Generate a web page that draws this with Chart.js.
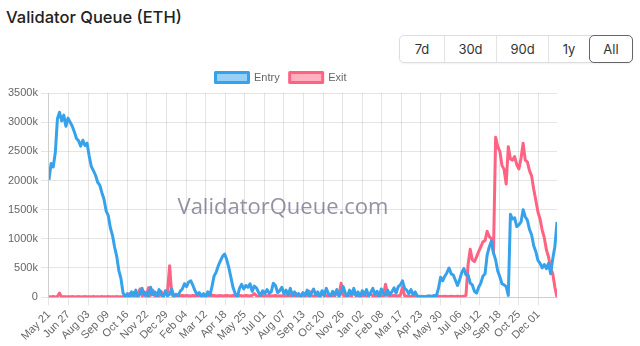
<!DOCTYPE html>
<html>
<head>
<meta charset="utf-8">
<script src="https://cdn.jsdelivr.net/npm/chart.js@4"></script>
<style>
  body { margin: 0; background: #fff; font-family: Inter, "Liberation Sans", sans-serif; }
  .title { position: absolute; left: 6px; top: 7px; font-size: 16.5px; font-weight: 500; color: #222; }
  .range { position: absolute; left: 399px; top: 35px; height: 26px; display: flex; border: 1px solid #ddd; border-radius: 5px; box-shadow: 0 1px 2px rgba(0,0,0,0.06); }
  .range button { border: 0; border-left: 1px solid #e4e4e4; background: #fff; font-family: Inter, sans-serif; font-size: 13px; color: #333; padding: 0; }
  .range button:first-child { border-left: 0; border-radius: 5px 0 0 5px; }
  .range button.on { border: 1px solid #666; border-radius: 5px; margin: -1px -1px -1px 0; }
  .wrap { position: absolute; left: 5px; top: 62px; width: 556px; height: 284px; }
  .mark { position: absolute; left: 0; width: 566px; top: 190px; text-align: center; font-family: "Open Sans", sans-serif; font-size: 22px; color: rgba(100,100,125,0.7); pointer-events: none; }
</style>
</head>
<body>
<div class="title">Validator Queue (ETH)</div>
<div class="range">
  <button style="width:44px">7d</button>
  <button style="width:52px">30d</button>
  <button style="width:52px">90d</button>
  <button style="width:41px">1y</button>
  <button class="on" style="width:44px">All</button>
</div>
<div class="wrap"><canvas id="chart"></canvas></div>
<div class="mark">ValidatorQueue.com</div>
<script>
// x ticks: every 37 days from 2023-05-21
const tickLabels = ['May 21', 'Jun 27', 'Aug 03', 'Sep 09', 'Oct 16', 'Nov 22', 'Dec 29', 'Feb 04', 'Mar 12',
  'Apr 18', 'May 25', 'Jul 01', 'Aug 07', 'Sep 13', 'Oct 20', 'Nov 26', 'Jan 02', 'Feb 08', 'Mar 17',
  'Apr 23', 'May 30', 'Jul 06', 'Aug 12', 'Sep 18', 'Oct 25', 'Dec 01'];
const tickDays = [0, 37, 74, 111, 148, 185, 222, 259, 296, 333, 370, 407, 444, 481, 518, 555, 592, 629, 666,
  703, 740, 777, 814, 851, 888, 925];

// queue size in k ETH, one sample every 4 days
const step = 4;
const entryK = [
  2010, 2290, 2230, 2480, 3060, 3170, 3020, 3120, 2930, 3070,
  3000, 2930, 2830, 2720, 2680, 2590, 2690, 2600, 2640, 2420,
  2240, 2170, 2090, 1970, 1920, 1790, 1680, 1480, 1400, 1190,
  1060, 860, 700, 460, 320, 70, 10, 60, 0, 90,
  20, 120, 10, 60, 150, 30, 80, 0, 170, 40,
  90, 10, 130, 50, 0, 110, 20, 60, 140, 10,
  50, 30, 100, 140, 230, 180, 260, 280, 200, 110,
  40, 80, 20, 60, 10, 90, 30, 180, 360, 430,
  540, 620, 700, 740, 640, 500, 330, 160, 60, 0,
  150, 220, 140, 200, 170, 230, 100, 190, 160, 80,
  30, 110, 60, 130, 70, 90, 240, 200, 80, 110,
  170, 60, 120, 40, 150, 30, 90, 20, 60, 10,
  80, 30, 120, 10, 70, 140, 40, 90, 0, 110,
  30, 150, 60, 20, 100, 40, 130, 10, 80, 180,
  70, 20, 120, 50, 150, 30, 90, 0, 110, 40,
  130, 20, 80, 150, 50, 100, 10, 140, 60, 30,
  120, 40, 90, 160, 70, 180, 210, 280, 150, 120,
  60, 130, 40, 90, 20, 10, 0, 10, 0, 20,
  20, 10, 30, 20, 150, 340, 280, 360, 420, 500,
  400, 380, 290, 200, 300, 420, 490, 380, 380, 240,
  210, 100, 70, 170, 240, 360, 400, 720, 860, 960,
  760, 640, 450, 350, 230, 210, 180, 30, 1420, 1340,
  1360, 1210, 1240, 1290, 1500, 1380, 1320, 1160, 1070, 880,
  780, 630, 580, 500, 560, 490, 580, 400, 660, 870,
  1290
];
const exitK = [
  5, 5, 10, 5, 10, 70, 0, 10, 5, 5,
  5, 10, 5, 5, 10, 5, 5, 10, 5, 5,
  5, 10, 5, 5, 5, 10, 5, 5, 10, 5,
  5, 5, 10, 5, 5, 10, 30, 10, 60, 20,
  80, 10, 50, 140, 20, 90, 10, 160, 30, 120,
  20, 70, 10, 100, 30, 60, 90, 540, 40, 20,
  30, 20, 25, 30, 20, 30, 25, 20, 30, 25,
  25, 30, 20, 25, 30, 20, 80, 25, 30, 20,
  25, 30, 20, 25, 30, 25, 20, 30, 25, 20,
  30, 25, 20, 30, 25, 20, 30, 60, 25, 20,
  25, 30, 20, 25, 30, 20, 25, 30, 20, 25,
  20, 30, 25, 20, 30, 25, 20, 60, 25, 20,
  25, 20, 30, 100, 25, 20, 30, 25, 20, 60,
  25, 30, 20, 25, 30, 20, 80, 25, 240, 30,
  20, 25, 30, 20, 90, 25, 30, 20, 25, 30,
  20, 25, 60, 20, 30, 25, 20, 30, 25, 220,
  30, 20, 25, 30, 20, 25, 30, 170, 25, 20,
  15, 10, 10, 15, 10, 10, 15, 10, 10, 15,
  10, 15, 10, 10, 15, 10, 10, 15, 10, 10,
  15, 10, 10, 15, 10, 10, 15, 30, 560, 820,
  640, 610, 690, 780, 860, 950, 970, 1130, 1040, 1000,
  760, 2740, 2580, 2500, 2260, 2190, 1940, 2580, 2370, 2350,
  2410, 2270, 2200, 2380, 2640, 2350, 2320, 2170, 2080, 1850,
  1660, 1460, 1340, 1150, 1020, 810, 690, 500, 400, 170,
  0
];

const toPoints = arr => arr.map((v, i) => ({ x: i * step, y: v * 1000 }));

const chart = new Chart(document.getElementById('chart'), {
    type: 'line',
    data: {
        datasets: [
            {
                label: 'Entry',
                data: toPoints(entryK),
                borderColor: 'rgb(54, 162, 235)',
                backgroundColor: 'rgba(54, 162, 235, 0.5)',
                borderWidth: 3,
                borderJoinStyle: 'round',
                pointRadius: 0
            },
            {
                label: 'Exit',
                data: toPoints(exitK),
                borderColor: 'rgb(255, 99, 132)',
                backgroundColor: 'rgba(255, 99, 132, 0.5)',
                borderWidth: 3,
                borderJoinStyle: 'round',
                pointRadius: 0
            }
        ]
    },
    options: {
        responsive: true,
        maintainAspectRatio: false,
        animation: false,
        layout: { padding: { right: 4 } },
        scales: {
            x: {
                type: 'linear',
                min: 0,
                max: 960,
                afterBuildTicks: axis => {
                    axis.ticks = tickDays.map(d => ({ value: d }));
                },
                ticks: {
                    autoSkip: false,
                    minRotation: 45,
                    maxRotation: 45,
                    color: '#666',
                    font: { size: 11 },
                    callback: value => tickLabels[tickDays.indexOf(value)]
                }
            },
            y: {
                min: 0,
                max: 3500000,
                ticks: {
                    stepSize: 500000,
                    color: '#666',
                    font: { size: 11 },
                    callback: value => value === 0 ? '0' : (value / 1000) + 'k'
                }
            }
        },
        plugins: {
            legend: {
                labels: {
                    boxWidth: 33,
                    boxHeight: 10,
                    color: '#666',
                    font: { size: 11 }
                }
            },
            tooltip: { enabled: false }
        }
    }
});
</script>
</body>
</html>
